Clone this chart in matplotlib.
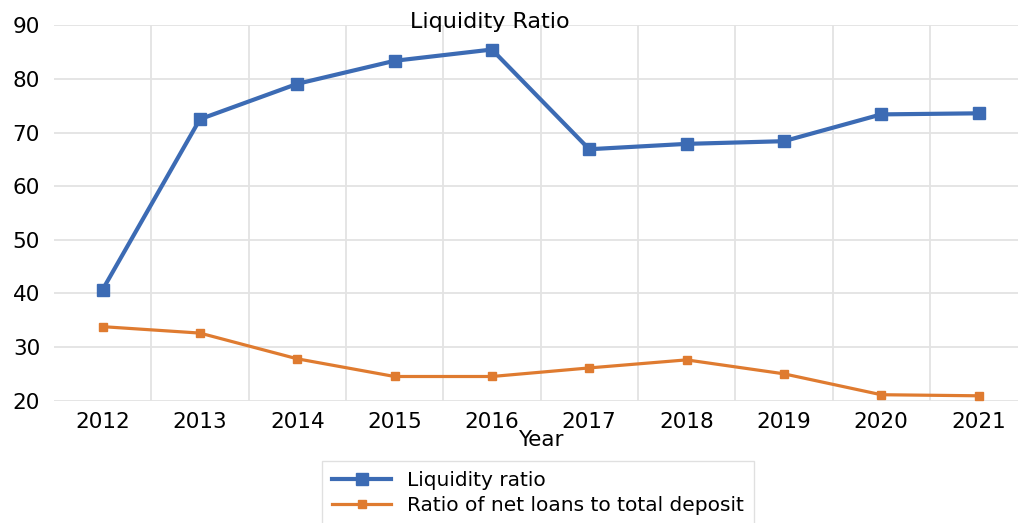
import matplotlib.pyplot as plt
import numpy as np

years = ["2012", "2013", "2014", "2015", "2016", "2017", "2018", "2019", "2020", "2021"]
liquidity_ratio = [40.7, 72.5, 79.1, 83.4, 85.5, 66.9, 67.9, 68.4, 73.4, 73.6]
net_loans_ratio = [33.8, 32.6, 27.8, 24.5, 24.5, 26.1, 27.6, 25.0, 21.1, 20.9]
yticks = [20, 30, 40, 50, 60, 70, 80, 90]

fig = plt.figure(figsize=(10.18, 5.23), dpi=100)
ax = fig.add_axes([0.053, 0.234, 0.956, 0.7174])

x = np.arange(len(years))
ax.plot(x, liquidity_ratio, color="#3C6BB4", lw=3, marker="s", ms=8.5,
        label="Liquidity ratio", clip_on=False, zorder=3)
ax.plot(x, net_loans_ratio, color="#DF7B30", lw=2.3, marker="s", ms=6,
        label="Ratio of net loans to total deposit", clip_on=False, zorder=3)

ax.set_xlim(-0.5, 9.5)
ax.set_ylim(20, 90)
ax.set_yticks(yticks)
ax.set_xticks(x)
ax.set_xticklabels(years)
ax.set_xticks(x[:-1] + 0.5, minor=True)
ax.tick_params(axis="both", which="both", length=0, labelsize=15.5)
ax.tick_params(axis="y", pad=10)
ax.tick_params(axis="x", pad=8)
ax.grid(axis="y", color="#E3E3E3", lw=1.3)
ax.grid(axis="x", which="minor", color="#E3E3E3", lw=1.3)
for s in ax.spines.values():
    s.set_visible(False)

ax.set_xlabel("Year", fontsize=15.5, labelpad=-1)
fig.text(0.481, 0.958, "Liquidity Ratio", ha="center", va="center", fontsize=16)

leg = ax.legend(loc="upper center", bbox_to_anchor=(538 / 1018, 0.118),
                bbox_transform=fig.transFigure, fontsize=14.5, frameon=True,
                fancybox=False, edgecolor="#D9D9D9", handlelength=2.9,
                borderpad=0.5, labelspacing=0.3, handletextpad=0.8,
                borderaxespad=0)
leg.get_frame().set_linewidth(1.0)

fig.savefig("out.png", dpi=100)
